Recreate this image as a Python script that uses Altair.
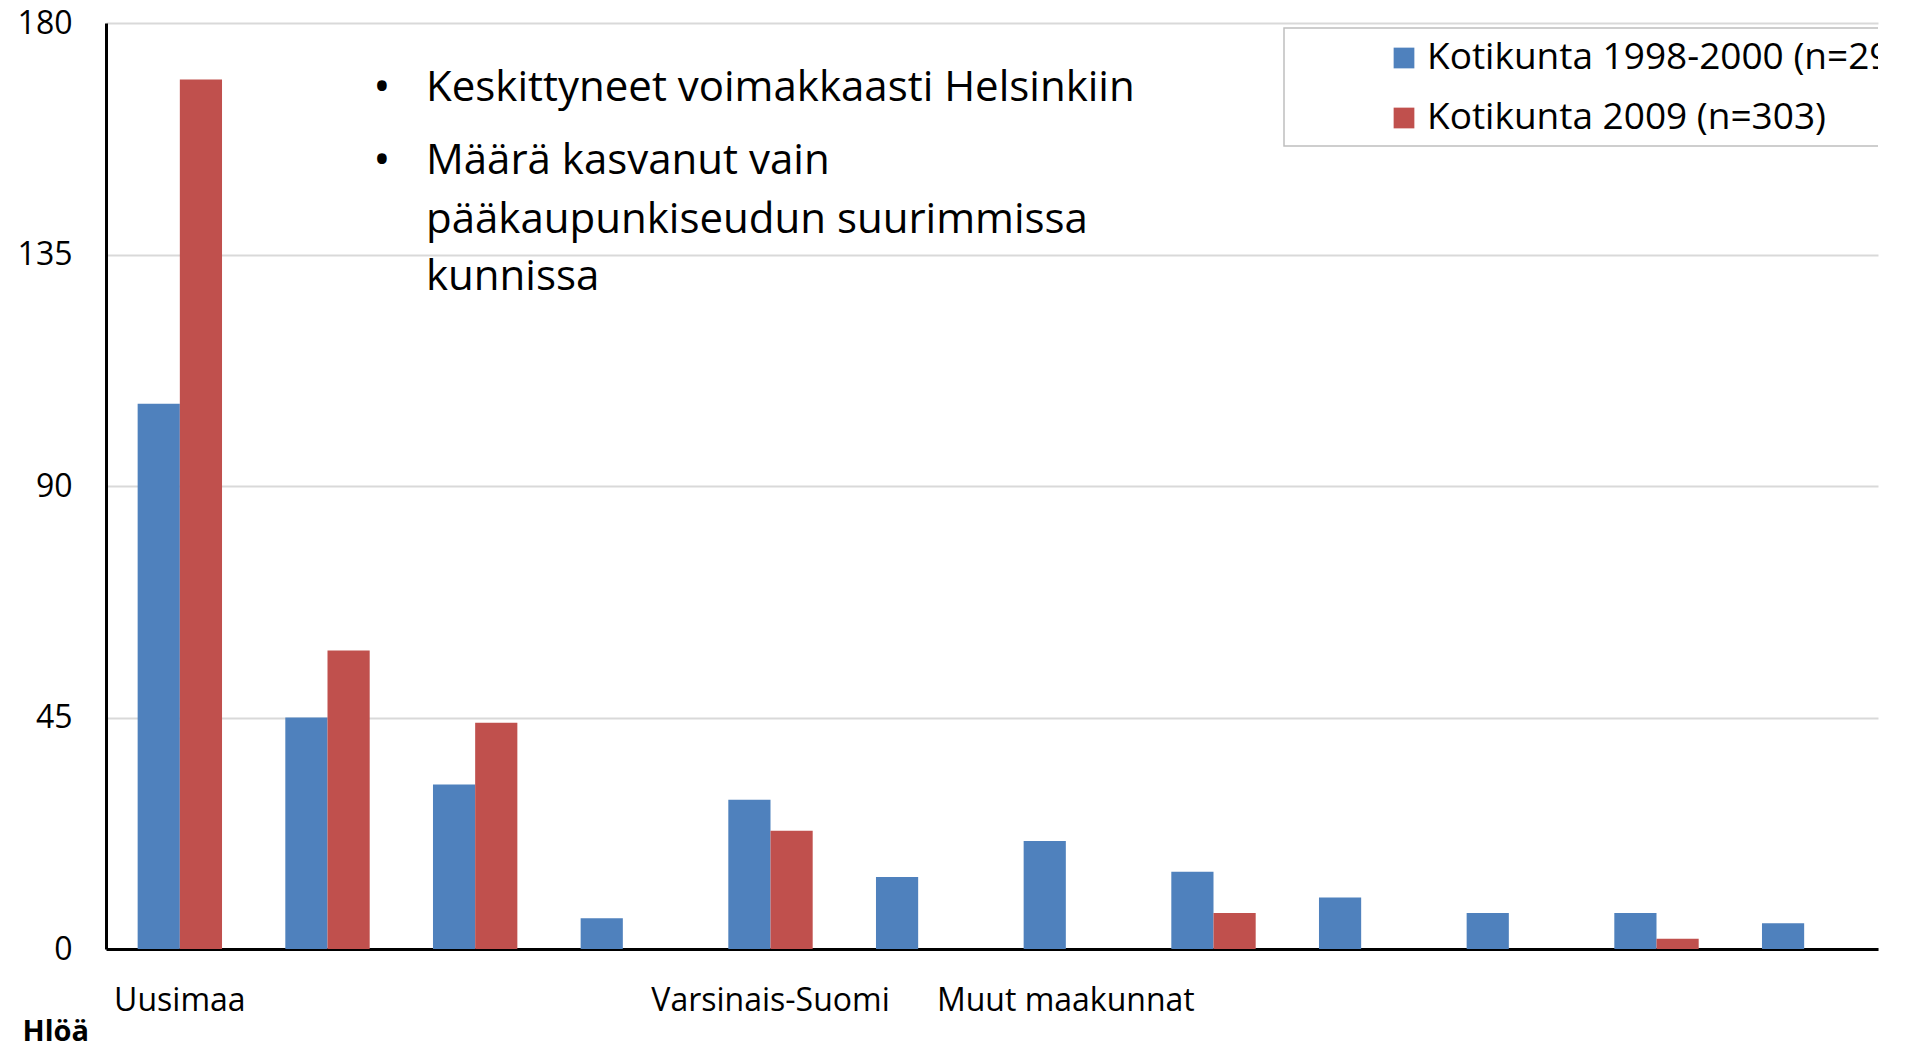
import json
import altair as alt
import pandas as pd

# ---- data ----
categories = ["Uusimaa", "", "", "", "Varsinais-Suomi", "", "Muut maakunnat", "", "", "", "", ""]
series = ["Kotikunta 1998-2000 (n=297)", "Kotikunta 2009 (n=303)"]
colors = ["#4F81BD", "#C0504D"]
blue_values = [106, 45, 32, 6, 29, 14, 21, 15, 10, 7, 7, 5]
red_values = [169, 58, 44, 0, 23, 0, 0, 7, 0, 0, 2, 0]
y_ticks = [0, 45, 90, 135, 180]
bullet_lines = [
    ("•", "Keskittyneet voimakkaasti Helsinkiin"),
    ("•", "Määrä kasvanut vain"),
    ("", "pääkaupunkiseudun suurimmissa"),
    ("", "kunnissa"),
]
y_title = "Hlöä"

rows = []
for i, lab in enumerate(categories):
    rows.append({"pos": i + 1, "series": series[0], "value": blue_values[i]})
    rows.append({"pos": i + 1, "series": series[1], "value": red_values[i]})
df = pd.DataFrame(rows)

FONT = "Open Sans"
W, H = 1772, 926

label_expr = json.dumps(categories) + "[datum.value - 1]"

bars = alt.Chart(df).mark_bar().encode(
    x=alt.X("pos:O", title=None,
            scale=alt.Scale(paddingInner=0.4286, paddingOuter=0.2143),
            axis=alt.Axis(labelExpr=label_expr, labelAngle=0, ticks=False,
                          labelPadding=36, labelFontSize=32, labelFont=FONT,
                          labelLimit=600,
                          labelColor="black", domainColor="black", domainWidth=3,
                          grid=False)),
    xOffset=alt.XOffset("series:N", sort=series,
                        scale=alt.Scale(paddingInner=0, paddingOuter=0)),
    y=alt.Y("value:Q", scale=alt.Scale(domain=[0, 180], nice=False),
            axis=alt.Axis(values=y_ticks, title=y_title, titleAngle=0,
                          titleX=-84, titleY=1008, titleAlign="left",
                          titleBaseline="middle", titleFont=FONT,
                          titleFontSize=29, titleFontWeight="bold",
                          titleColor="black",
                          ticks=False, labelPadding=34, labelFontSize=32,
                          labelFont=FONT, labelColor="black",
                          domainColor="black", domainWidth=3,
                          gridColor="#D9D9D9", gridWidth=2)),
    color=alt.Color("series:N", scale=alt.Scale(domain=series, range=colors),
                    legend=None),
)

one = alt.Data(values=[{}])

# legend box (clipped to the plot area like the original)
leg_box = alt.Chart(one).mark_rect(fill="white", stroke="#BFBFBF",
                                   strokeWidth=1.5, clip=True).encode(
    x=alt.value(1178), x2=alt.value(1900), y=alt.value(5), y2=alt.value(123))

leg_layers = [leg_box]
for k, (name, col) in enumerate(zip(series, colors)):
    yc = 35 + 60 * k
    leg_layers.append(alt.Chart(one).mark_square(size=430, color=col, opacity=1,
                                                 clip=True).encode(
        x=alt.value(1298), y=alt.value(yc)))
    leg_layers.append(alt.Chart(one).mark_text(text=name, align="left",
                                               baseline="middle", font=FONT,
                                               fontSize=37, color="black",
                                               clip=True).encode(
        x=alt.value(1321), y=alt.value(yc)))

# bullet text
bullet_y = [65, 138, 197, 254]
txt_layers = []
for (b, t), yc in zip(bullet_lines, bullet_y):
    if b:
        txt_layers.append(alt.Chart(one).mark_text(text=b, align="center",
                                                   baseline="middle", font=FONT,
                                                   fontSize=46, color="black").encode(
            x=alt.value(276), y=alt.value(yc)))
    txt_layers.append(alt.Chart(one).mark_text(text=t, align="left",
                                               baseline="middle", font=FONT,
                                               fontSize=42, color="black").encode(
        x=alt.value(320), y=alt.value(yc)))

chart = alt.layer(bars, *leg_layers, *txt_layers).properties(
    width=W, height=H,
    autosize="none",
    padding={"left": 98, "top": 15, "right": 26, "bottom": 100},
).configure_view(stroke=None)

chart.save("out.html", embed_options={"renderer": "svg", "actions": False})
